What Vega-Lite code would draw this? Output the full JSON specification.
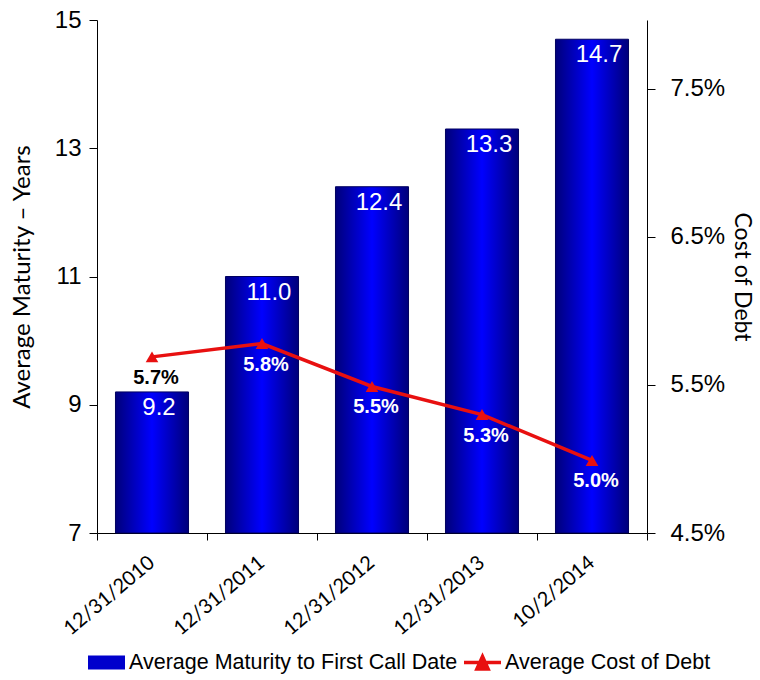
{
  "$schema": "https://vega.github.io/schema/vega-lite/v6.json",
  "width": 550,
  "height": 513,
  "autosize": "none",
  "padding": {"left": 97, "top": 20, "right": 113, "bottom": 147},
  "config": {"view": {"stroke": null}, "font": "Liberation Sans"},
  "data": {
    "values": [
      {"date": "12/31/2010", "maturity": 9.2, "cost": 0.0569},
      {"date": "12/31/2011", "maturity": 11.0, "cost": 0.0578},
      {"date": "12/31/2012", "maturity": 12.4, "cost": 0.0549},
      {"date": "12/31/2013", "maturity": 13.3, "cost": 0.0530},
      {"date": "10/2/2014", "maturity": 14.7, "cost": 0.0499}
    ]
  },
  "encoding": {
    "x": {
      "field": "date",
      "type": "nominal",
      "sort": null,
      "scale": {"paddingInner": 0, "paddingOuter": 0},
      "axis": {
        "title": null,
        "labelAngle": -40,
        "labelAlign": "right",
        "labelBaseline": "top",
        "labelFont": "Lato",
        "labelFontSize": 20,
        "labelColor": "black",
        "labelPadding": 12,
        "labelOffset": -7,
        "labelOverlap": false,
        "domainColor": "black",
        "tickColor": "black",
        "tickSize": 7,
        "tickBand": "extent",
        "grid": false
      }
    }
  },
  "layer": [
    {
      "encoding": {
        "y": {
          "field": "maturity",
          "type": "quantitative",
          "scale": {"domain": [7, 15], "nice": false, "zero": false},
          "axis": {
            "orient": "left",
            "title": "Average Maturity – Years",
            "titleFont": "Lato",
            "titleFontSize": 24,
            "titleFontWeight": "normal",
            "titleColor": "black",
            "titlePadding": 20,
            "values": [7, 9, 11, 13, 15],
            "labelFontSize": 24,
            "labelColor": "black",
            "labelPadding": 8,
            "tickSize": 8,
            "tickColor": "black",
            "domainColor": "black",
            "grid": false
          }
        }
      },
      "layer": [
        {
          "mark": {
            "type": "bar",
            "width": {"band": 0.664},
            "stroke": "#000060",
            "strokeWidth": 1,
            "color": {
              "gradient": "linear",
              "x1": 0, "y1": 0, "x2": 1, "y2": 0,
              "stops": [
                {"offset": 0, "color": "#00007A"},
                {"offset": 0.5, "color": "#0000FF"},
                {"offset": 1, "color": "#00007A"}
              ]
            }
          },
          "encoding": {"y2": {"datum": 7}}
        },
        {
          "mark": {"type": "text", "color": "white", "fontSize": 24, "baseline": "top", "dy": 4, "dx": 7},
          "encoding": {"text": {"field": "maturity", "type": "quantitative", "format": ".1f"}}
        }
      ]
    },
    {
      "encoding": {
        "y": {
          "field": "cost",
          "type": "quantitative",
          "scale": {"domain": [0.045, 0.07966], "nice": false, "zero": false},
          "axis": {
            "orient": "right",
            "title": "Cost of Debt",
            "titleFont": "Lato",
            "titleFontSize": 23,
            "titleFontWeight": "normal",
            "titleColor": "black",
            "titlePadding": 5,
            "values": [0.045, 0.055, 0.065, 0.075],
            "format": ".1%",
            "labelFontSize": 24,
            "labelColor": "black",
            "labelPadding": 15,
            "tickSize": 8,
            "tickColor": "black",
            "domainColor": "black",
            "grid": false
          }
        }
      },
      "layer": [
        {
          "mark": {"type": "line", "strokeWidth": 3.5},
          "encoding": {
            "color": {
              "datum": "Average Cost of Debt",
              "type": "nominal",
              "scale": {
                "domain": ["Average Maturity to First Call Date", "Average Cost of Debt"],
                "range": ["#0000CC", "#E81010"]
              },
              "legend": {
                "title": null,
                "orient": "none",
                "legendX": -9,
                "legendY": 624,
                "direction": "horizontal",
                "columns": 2,
                "padding": 0,
                "columnPadding": 6,
                "labelFont": "Liberation Sans",
                "labelFontSize": 21.5,
                "labelColor": "black",
                "labelOffset": 4,
                "labelLimit": 500,
                "symbolSize": 1369,
                "encoding": {
                  "symbols": {
                    "shape": {
                      "condition": {"test": "datum.value === 'Average Cost of Debt'", "value": "M-1,-0.1L1,-0.1L1,0.1L-1,0.1Z M0,-0.55L0.45,0.45L-0.45,0.45Z"},
                      "value": "M-1,-0.38L1,-0.38L1,0.38L-1,0.38Z"
                    },
                    "fill": {
                      "condition": {"test": "datum.value === 'Average Cost of Debt'", "value": "#E81010"},
                      "value": {
                        "gradient": "linear",
                        "x1": 0, "y1": 0, "x2": 1, "y2": 0,
                        "stops": [
                          {"offset": 0, "color": "#00007A"},
                          {"offset": 0.5, "color": "#0000FF"},
                          {"offset": 1, "color": "#00007A"}
                        ]
                      }
                    },
                    "stroke": {"value": "transparent"},
                    "strokeWidth": {"value": 0},
                    "opacity": {"value": 1},
                    "fillOpacity": {"value": 1}
                  }
                }
              }
            }
          }
        },
        {
          "mark": {"type": "point", "shape": "triangle-up", "filled": true, "size": 160, "opacity": 1},
          "encoding": {"color": {"datum": "Average Cost of Debt", "type": "nominal"}}
        },
        {
          "mark": {"type": "text", "fontSize": 20, "fontWeight": "bold", "baseline": "middle", "dy": 21, "dx": 4},
          "encoding": {
            "text": {"field": "cost", "type": "quantitative", "format": ".1%"},
            "color": {"condition": {"test": "datum.date === '12/31/2010'", "value": "black"}, "value": "white"}
          }
        }
      ]
    }
  ],
  "resolve": {"scale": {"y": "independent"}}
}
